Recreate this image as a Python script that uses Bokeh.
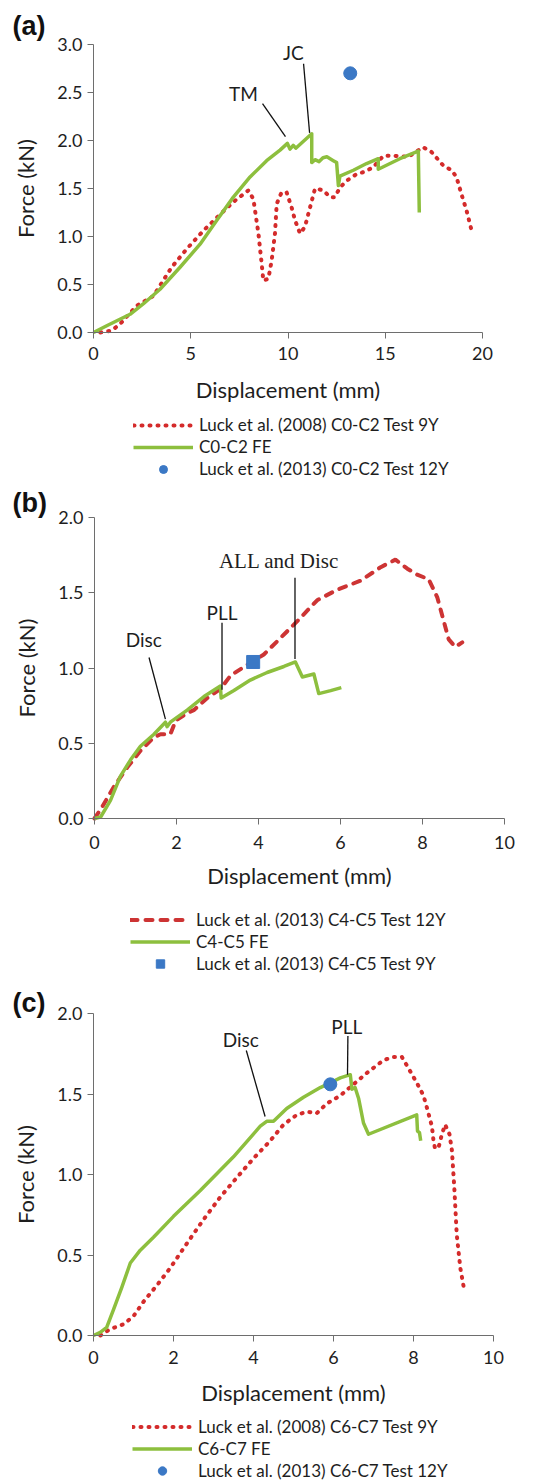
from bokeh.plotting import figure
from bokeh.layouts import column
from bokeh.models import Range1d, FixedTicker, PrintfTickFormatter, Legend, LegendItem, Label
from bokeh.core.properties import value
from bokeh.embed import file_html
from bokeh.resources import INLINE

# ---------------- data: panel (a) C0-C2 ----------------
a_test_x = [0.35, 0.94, 1.37, 2.23, 3.08, 4.02, 4.79, 5.65, 6.51, 7.19, 7.96, 8.22, 8.48, 8.65, 8.73,
            8.99, 9.16, 9.33, 9.42, 9.67, 9.93, 10.19, 10.36, 10.62, 10.87, 11.13, 11.39, 11.82,
            12.16, 12.41, 12.67, 13.01, 13.53, 13.87, 14.38, 14.90, 15.50, 16.18, 16.95, 17.38,
            17.98, 18.41, 18.66, 18.92, 19.18, 19.43]
a_test_y = [0.0, 0.02, 0.09, 0.28, 0.38, 0.68, 0.87, 1.06, 1.23, 1.36, 1.48, 1.39, 1.03, 0.71, 0.54,
            0.56, 0.75, 1.03, 1.34, 1.46, 1.46, 1.30, 1.17, 1.03, 1.10, 1.30, 1.50, 1.48,
            1.41, 1.41, 1.51, 1.58, 1.65, 1.67, 1.72, 1.84, 1.84, 1.83, 1.93, 1.88,
            1.74, 1.69, 1.62, 1.44, 1.27, 1.07]
a_fe_x = [0.0, 0.68, 1.88, 2.57, 3.42, 4.45, 5.48, 6.34, 7.19, 8.05, 8.90, 9.59, 9.97, 10.10, 10.27,
          10.40, 11.22, 11.22, 11.39, 11.60, 11.80, 12.00, 12.33, 12.50, 12.59, 12.67, 13.36, 14.04,
          14.64, 14.64, 15.75, 16.70, 16.75]
a_fe_y = [0.0, 0.07, 0.19, 0.30, 0.45, 0.68, 0.92, 1.17, 1.41, 1.62, 1.79, 1.90, 1.97, 1.91, 1.95,
          1.92, 2.07, 1.77, 1.80, 1.78, 1.82, 1.83, 1.79, 1.77, 1.53, 1.63, 1.69, 1.76,
          1.81, 1.70, 1.81, 1.89, 1.25]
a_pt_x = [13.2]
a_pt_y = [2.70]
a_ticks_x = [0, 5, 10, 15, 20]
a_ticks_y = [0.0, 0.5, 1.0, 1.5, 2.0, 2.5, 3.0]
a_labels = ["Luck et al. (2008) C0-C2 Test 9Y", "C0-C2 FE", "Luck et al. (2013) C0-C2 Test 12Y"]
a_notes = ["TM", "JC"]
a_note_x = [7.71, 10.28]
a_note_y = [2.49, 2.92]
a_lead_x0 = [8.69, 10.80]
a_lead_y0 = [2.385, 2.80]
a_lead_x1 = [9.87, 11.11]
a_lead_y1 = [2.04, 2.08]

# ---------------- data: panel (b) C4-C5 ----------------
b_test_x = [0.0, 0.15, 0.47, 0.80, 1.12, 1.45, 1.61, 1.85, 1.98, 2.26, 2.42, 2.75, 3.07, 3.32, 3.72,
            4.13, 4.54, 4.94, 5.43, 5.92, 6.49, 6.98, 7.34, 7.63, 7.87, 8.15, 8.36, 8.52, 8.64,
            8.80, 8.97]
b_test_y = [0.0, 0.06, 0.21, 0.34, 0.45, 0.54, 0.56, 0.56, 0.65, 0.70, 0.72, 0.80, 0.86, 0.95, 1.02,
            1.09, 1.20, 1.31, 1.45, 1.52, 1.58, 1.67, 1.72, 1.66, 1.62, 1.59, 1.47, 1.31, 1.19,
            1.14, 1.17]
b_fe_x = [0.0, 0.15, 0.39, 0.63, 0.88, 1.12, 1.45, 1.73, 1.77, 1.85, 2.26, 2.67, 3.07, 3.09, 3.40,
          3.80, 4.21, 4.62, 4.90, 5.07, 5.35, 5.47, 5.76, 6.02]
b_fe_y = [0.0, 0.01, 0.12, 0.28, 0.39, 0.48, 0.56, 0.64, 0.61, 0.64, 0.72, 0.81, 0.88, 0.80, 0.85,
          0.92, 0.97, 1.01, 1.04, 0.94, 0.96, 0.83, 0.85, 0.87]
b_pt_x = [3.87]
b_pt_y = [1.04]
b_ticks_x = [0, 2, 4, 6, 8, 10]
b_ticks_y = [0.0, 0.5, 1.0, 1.5, 2.0]
b_labels = ["Luck et al. (2013) C4-C5 Test 12Y", "C4-C5 FE", "Luck et al. (2013) C4-C5 Test 9Y"]
b_notes = ["Disc", "PLL"]
b_note_x = [1.20, 3.11]
b_note_y = [1.19, 1.37]
b_serif_note = ["ALL and Disc"]
b_serif_x = [4.50]
b_serif_y = [1.71]
b_lead_x0 = [1.33, 3.11, 4.89]
b_lead_y0 = [1.07, 1.30, 1.60]
b_lead_x1 = [1.73, 3.11, 4.89]
b_lead_y1 = [0.66, 0.855, 1.06]

# ---------------- data: panel (c) C6-C7 ----------------
c_test_x = [0.17, 0.42, 0.75, 1.0, 1.25, 1.58, 1.92, 2.33, 2.75, 3.17, 3.58, 4.0, 4.42, 4.75, 5.08,
            5.33, 5.58, 5.83, 6.17, 6.5, 6.83, 7.25, 7.5, 7.71, 7.92, 8.125, 8.25, 8.33, 8.46,
            8.5, 8.54, 8.63, 8.71, 8.79, 8.9, 8.96, 9.02, 9.08, 9.17, 9.27]
c_test_y = [0.0, 0.04, 0.07, 0.12, 0.21, 0.31, 0.42, 0.57, 0.72, 0.86, 0.98, 1.10, 1.21, 1.31, 1.37,
            1.39, 1.38, 1.44, 1.49, 1.56, 1.63, 1.71, 1.73, 1.73, 1.64, 1.55, 1.49, 1.42, 1.30,
            1.21, 1.16, 1.17, 1.25, 1.31, 1.25, 1.15, 0.92, 0.63, 0.42, 0.28]
c_fe_x = [0.0, 0.17, 0.33, 0.5, 0.71, 0.92, 1.17, 1.5, 2.0, 2.67, 3.5, 4.17, 4.33, 4.5, 4.83, 5.25,
          5.67, 5.92, 6.17, 6.42, 6.46, 6.54, 6.63, 6.67, 6.75, 6.875, 8.08, 8.10, 8.15, 8.18]
c_fe_y = [0.0, 0.02, 0.05, 0.16, 0.30, 0.45, 0.53, 0.61, 0.74, 0.90, 1.11, 1.30, 1.33, 1.33, 1.41, 1.48,
          1.54, 1.57, 1.60, 1.62, 1.53, 1.54, 1.47, 1.42, 1.32, 1.25, 1.37, 1.27, 1.26, 1.21]
c_pt_x = [5.92]
c_pt_y = [1.56]
c_ticks_x = [0, 2, 4, 6, 8, 10]
c_ticks_y = [0.0, 0.5, 1.0, 1.5, 2.0]
c_labels = ["Luck et al. (2008) C6-C7 Test 9Y", "C6-C7 FE", "Luck et al. (2013) C6-C7 Test 12Y"]
c_notes = ["Disc", "PLL"]
c_note_x = [3.68, 6.33]
c_note_y = [1.84, 1.92]
c_lead_x0 = [3.82, 6.36]
c_lead_y0 = [1.77, 1.86]
c_lead_x1 = [4.29, 6.35]
c_lead_y1 = [1.36, 1.62]

X_TITLE = "Displacement (mm)"
Y_TITLE = "Force (kN)"

RED = "#d42b2b"
RED_DASH = "#cd3434"
GREEN = "#8dbf3e"
BLUE = "#3b78c5"
FONT = "Lato"
AXIS_COLOR = "#6e6e6e"
TEXT_COLOR = "#1e1e1e"
FIG_W = 544


def make_panel(tag, xmax, ymax, ticks_x, ticks_y, height, top_px,
               left_px, plot_w, plot_h, tag_y, tick_standoff, title_standoff):
    # The frame covers the whole figure, so the axes (fixed at 0), their
    # labels, the panel tag and the legend all sit inside it.
    below_px = height - top_px - plot_h
    xlo = -xmax * left_px / plot_w
    xhi = xmax * (FIG_W - left_px) / plot_w
    ylo = -ymax * below_px / plot_h
    yhi = ymax + ymax * top_px / plot_h
    p = figure(width=FIG_W, height=height, output_backend="svg", toolbar_location=None,
               x_range=Range1d(xlo, xhi), y_range=Range1d(ylo, yhi),
               min_border_left=0, min_border_right=0,
               min_border_top=0, min_border_bottom=0)
    p.outline_line_color = None
    p.grid.visible = False
    p.background_fill_color = "white"
    p.border_fill_color = "white"
    for ax in (p.xaxis[0], p.yaxis[0]):
        ax.axis_line_color = AXIS_COLOR
        ax.major_tick_line_color = AXIS_COLOR
        ax.minor_tick_line_color = None
        ax.major_tick_out = 6
        ax.major_tick_in = 0
        ax.major_label_text_font = FONT
        ax.major_label_text_font_size = "18px"
        ax.major_label_text_color = TEXT_COLOR
        ax.axis_label_text_font = FONT
        ax.axis_label_text_font_size = "22px"
        ax.axis_label_text_font_style = "normal"
        ax.axis_label_text_color = TEXT_COLOR
    p.xaxis.fixed_location = 0
    p.yaxis.fixed_location = 0
    p.xaxis.bounds = (0, xmax)
    p.yaxis.bounds = (0, ymax)
    p.xaxis.major_label_standoff = tick_standoff
    p.yaxis.major_label_standoff = 5
    p.xaxis.ticker = FixedTicker(ticks=ticks_x)
    p.yaxis.ticker = FixedTicker(ticks=ticks_y)
    p.yaxis.formatter = PrintfTickFormatter(format="%.1f")
    p.xaxis.axis_label = X_TITLE
    p.yaxis.axis_label = Y_TITLE
    p.xaxis.axis_label_standoff = title_standoff
    p.yaxis.axis_label_standoff = 15
    p.add_layout(Label(x=12, y=height - tag_y, x_units="screen", y_units="screen",
                       text=tag, text_font="Liberation Sans", text_font_style="bold",
                       text_font_size="27px", text_color="#111111",
                       text_baseline="middle", text_align="left"))
    return p


def add_legend(p, renderers, labels, lx, ly, row_h):
    items = [LegendItem(label=l, renderers=[r]) for l, r in zip(labels, renderers)]
    lg = Legend(items=items, location=(lx, ly), orientation="vertical",
                glyph_width=60, glyph_height=row_h, label_height=row_h, spacing=1,
                padding=0, margin=0, border_line_color=None,
                background_fill_alpha=0, label_standoff=6,
                label_text_font=FONT, label_text_font_size="17px",
                label_text_color=TEXT_COLOR)
    p.add_layout(lg, "center")


def add_notes(p, xs, ys, texts, font, size):
    p.text(x=xs, y=ys, text=texts, text_align="center", text_baseline="middle",
           text_font=value(font), text_font_size=size, text_color=TEXT_COLOR)


# ---- panel a ----
pa = make_panel("(a)", 20, 3.0, a_ticks_x, a_ticks_y, 480, 44, 93, 389, 288, 25, 8, 13)
ra1 = pa.line(a_test_x, a_test_y, line_color=RED, line_width=4, line_dash="1 7", line_cap="round")
ra2 = pa.line(a_fe_x, a_fe_y, line_color=GREEN, line_width=3.5, line_join="round")
ra3 = pa.scatter(a_pt_x, a_pt_y, marker="circle", size=13, fill_color=BLUE, line_color=BLUE)
pa.segment(a_lead_x0, a_lead_y0, a_lead_x1, a_lead_y1, line_color="#111111", line_width=1.3)
add_notes(pa, a_note_x, a_note_y, a_notes, FONT, "19px")
add_legend(pa, [ra1, ra2, ra3], a_labels, 133, 1, 20)

# ---- panel b ----
pb = make_panel("(b)", 10, 2.0, b_ticks_x, b_ticks_y, 505, 37, 94, 410, 301, 22, 11, 10)
rb1 = pb.line(b_test_x, b_test_y, line_color=RED_DASH, line_width=4, line_dash="7 8", line_cap="round")
rb2 = pb.line(b_fe_x, b_fe_y, line_color=GREEN, line_width=3.5, line_join="round")
rb3 = pb.scatter(b_pt_x, b_pt_y, marker="square", size=13, fill_color=BLUE, line_color=BLUE)
pb.segment(b_lead_x0, b_lead_y0, b_lead_x1, b_lead_y1, line_color="#111111", line_width=1.3)
add_notes(pb, b_note_x, b_note_y, b_notes, FONT, "19px")
add_notes(pb, b_serif_x, b_serif_y, b_serif_note, "Liberation Serif", "21px")
add_legend(pb, [rb1, rb2, rb3], b_labels, 130, 11, 21)

# ---- panel c ----
pc = make_panel("(c)", 10, 2.0, c_ticks_x, c_ticks_y, 497, 28, 93, 400, 322, 17, 9, 12)
rc1 = pc.line(c_test_x, c_test_y, line_color=RED, line_width=4, line_dash="1 7", line_cap="round")
rc2 = pc.line(c_fe_x, c_fe_y, line_color=GREEN, line_width=3.5, line_join="round")
rc3 = pc.scatter(c_pt_x, c_pt_y, marker="circle", size=13, fill_color=BLUE, line_color=BLUE)
pc.segment(c_lead_x0, c_lead_y0, c_lead_x1, c_lead_y1, line_color="#111111", line_width=1.3)
add_notes(pc, c_note_x, c_note_y, c_notes, FONT, "19px")
add_legend(pc, [rc1, rc2, rc3], c_labels, 132, 1, 21)

layout = column(pa, pb, pc, spacing=0)
open("out.html", "w").write(file_html(layout, INLINE))
